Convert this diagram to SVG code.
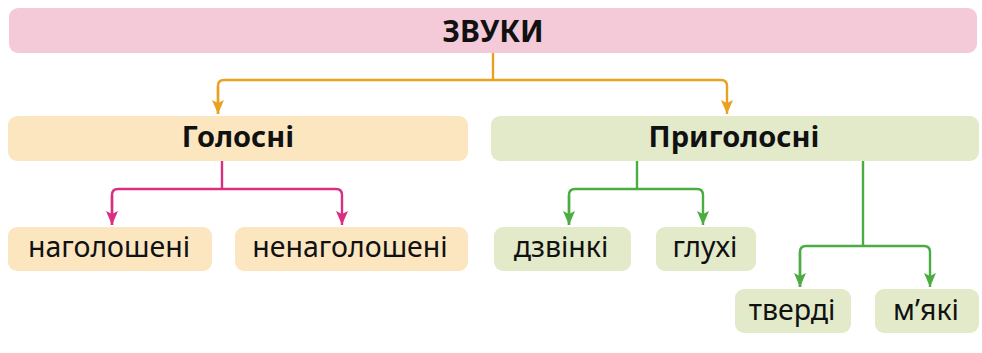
<svg xmlns="http://www.w3.org/2000/svg" width="982" height="353" viewBox="0 0 982 353">
<defs>
<marker id="aO" viewBox="0 0 14 12" refX="14" refY="6" markerWidth="14" markerHeight="12" markerUnits="userSpaceOnUse" orient="auto"><path d="M0,0 L14,6 L0,12 L3,6 z" fill="#e9a123"/></marker>
<marker id="aP" viewBox="0 0 14 12" refX="14" refY="6" markerWidth="14" markerHeight="12" markerUnits="userSpaceOnUse" orient="auto"><path d="M0,0 L14,6 L0,12 L3,6 z" fill="#d92f82"/></marker>
<marker id="aG" viewBox="0 0 14 12" refX="14" refY="6" markerWidth="14" markerHeight="12" markerUnits="userSpaceOnUse" orient="auto"><path d="M0,0 L14,6 L0,12 L3,6 z" fill="#4bac42"/></marker>
</defs>
<style>
.t{font-family:"Noto Sans","Open Sans","Liberation Sans",sans-serif;text-anchor:middle;fill:#111}
.b{font-weight:bold;font-size:29px}
.r{font-size:28.5px}
.c{fill:none;stroke-width:2.4}
.pk{fill:#f5cad8}.or{fill:#fbe6c0}.gr{fill:#e2eac9}
</style>
<rect width="982" height="353" fill="#fff"/>
<g id="connectors">
<path class="c" stroke="#e9a123" d="M493,53 V80"/>
<path class="c" stroke="#e9a123" d="M218,114 V86 Q218,80 224,80 H721 Q727,80 727,86 V114" marker-end="url(#aO)"/>
<path class="c" stroke="#e9a123" d="M218,86 V114" marker-end="url(#aO)"/>
<path class="c" stroke="#d92f82" d="M222,161 V189"/>
<path class="c" stroke="#d92f82" d="M112,225 V195 Q112,189 118,189 H336 Q342,189 342,195 V225" marker-end="url(#aP)"/>
<path class="c" stroke="#d92f82" d="M112,195 V225" marker-end="url(#aP)"/>
<path class="c" stroke="#4bac42" d="M637,161 V189"/>
<path class="c" stroke="#4bac42" d="M569,225 V195 Q569,189 575,189 H697 Q703,189 703,195 V225" marker-end="url(#aG)"/>
<path class="c" stroke="#4bac42" d="M569,195 V225" marker-end="url(#aG)"/>
<path class="c" stroke="#4bac42" d="M863,161 V246"/>
<path class="c" stroke="#4bac42" d="M800,287 V252 Q800,246 806,246 H924 Q930,246 930,252 V287" marker-end="url(#aG)"/>
<path class="c" stroke="#4bac42" d="M800,252 V287" marker-end="url(#aG)"/>
</g>
<g id="zvuky"><rect class="pk" x="9" y="8" width="968" height="45" rx="9"/><text class="t b" x="493" y="42" style="font-size:30px">ЗВУКИ</text></g>
<g id="holosni"><rect class="or" x="8" y="116" width="460" height="45" rx="9"/><text class="t b" x="238" y="147">Голосні</text></g>
<g id="pryholosni"><rect class="gr" x="491" y="116" width="488" height="45" rx="9"/><text class="t b" x="734" y="147">Приголосні</text></g>
<g id="naholosheni"><rect class="or" x="8" y="227" width="204" height="44" rx="9"/><text class="t r" x="109" y="257">наголошені</text></g>
<g id="nenaholosheni"><rect class="or" x="235" y="227" width="233" height="44" rx="9"/><text class="t r" x="350" y="257">ненаголошені</text></g>
<g id="dzvinki"><rect class="gr" x="494" y="227" width="137" height="44" rx="9"/><text class="t r" x="561" y="257">дзвінкі</text></g>
<g id="hlukhi"><rect class="gr" x="656" y="227" width="100" height="44" rx="9"/><text class="t r" x="705" y="257">глухі</text></g>
<g id="tverdi"><rect class="gr" x="735" y="289" width="116" height="44" rx="9"/><text class="t r" x="792" y="320">тверді</text></g>
<g id="miaki"><rect class="gr" x="875" y="289" width="104" height="44" rx="9"/><text class="t r" x="926" y="320">м’які</text></g>
</svg>
